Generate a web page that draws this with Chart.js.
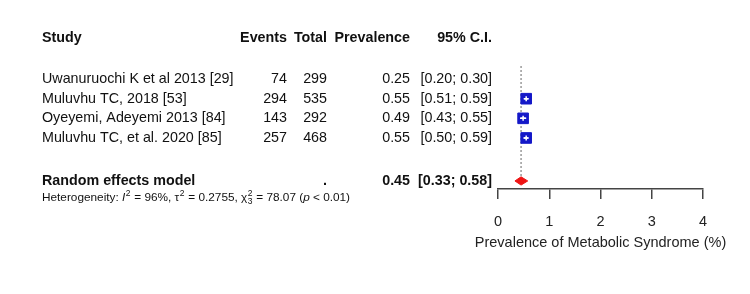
<!DOCTYPE html>
<html>
<head>
<meta charset="utf-8">
<script src="https://cdn.jsdelivr.net/npm/chart.js@4.4.1/dist/chart.umd.min.js"></script>
<style>
  html, body { margin: 0; padding: 0; background: #fff; }
  #wrap { width: 750px; height: 294px; }
</style>
</head>
<body>
<div id="wrap"><canvas id="forest"></canvas></div>
<script>
// data
const studies = ['Uwanuruochi K et al 2013 [29]', 'Muluvhu TC, 2018 [53]', 'Oyeyemi, Adeyemi 2013 [84]', 'Muluvhu TC, et al. 2020 [85]'];
const events = [74, 294, 143, 257];
const totals = [299, 535, 292, 468];
const prevalence = [0.25, 0.55, 0.49, 0.55];
const ciLow = [0.20, 0.51, 0.43, 0.50];
const ciHigh = [0.30, 0.59, 0.55, 0.59];
const squareSize = [0, 7.5, 7.5, 7.5];
const pooled = [0.45];
const pooledLow = [0.33];
const pooledHigh = [0.58];
const xTicks = [0, 1, 2, 3, 4];
const xTitle = 'Prevalence of Metabolic Syndrome (%)';

const rows = studies.map((s, i) => i + 1);
const summaryRow = 6.19;
const headerRow = -1.08;
const hetRow = 7.05;

const BLUE = '#1418c8';
const RED = '#ee1414';
const INK = '#111';
const FAM = '"Liberation Sans", Arial, sans-serif';

// CI segments, broken by NaN points
const ciSegs = [];
rows.forEach((r, i) => {
  ciSegs.push({x: ciLow[i], y: r}, {x: ciHigh[i], y: r}, {x: NaN, y: NaN});
});

const diamond = [
  {x: pooledLow[0], y: summaryRow},
  {x: pooled[0], y: summaryRow - 0.21},
  {x: pooledHigh[0], y: summaryRow},
  {x: pooled[0], y: summaryRow + 0.21},
  {x: pooledLow[0], y: summaryRow}
];

const tablePlugin = {
  id: 'forestTable',
  afterDraw(chart) {
    const ctx = chart.ctx;
    const y = chart.scales.y;
    const xs = chart.scales.x;
    const reg = '14.3px ' + FAM;
    const bold = 'bold 14.3px ' + FAM;
    const col = {study: 42, events: 287, total: 327, prev: 410, ci: 492};
    ctx.save();
    ctx.fillStyle = INK;
    ctx.textBaseline = 'middle';

    function put(t, x, yy, align, font) {
      ctx.font = font;
      ctx.textAlign = align;
      ctx.fillText(t, x, yy);
    }

    // header
    let hy = y.getPixelForValue(headerRow);
    put('Study', col.study, hy, 'left', bold);
    put('Events', col.events, hy, 'right', bold);
    put('Total', col.total, hy, 'right', bold);
    put('Prevalence', col.prev, hy, 'right', bold);
    put('95% C.I.', col.ci, hy, 'right', bold);

    // studies
    rows.forEach((r, i) => {
      const py = y.getPixelForValue(r);
      put(studies[i], col.study, py, 'left', reg);
      put(String(events[i]), col.events, py, 'right', reg);
      put(String(totals[i]), col.total, py, 'right', reg);
      put(prevalence[i].toFixed(2), col.prev, py, 'right', reg);
      put('[' + ciLow[i].toFixed(2) + '; ' + ciHigh[i].toFixed(2) + ']', col.ci, py, 'right', reg);
    });

    // summary
    const sy = y.getPixelForValue(summaryRow);
    put('Random effects model', col.study, sy, 'left', bold);
    put('.', col.total, sy, 'right', bold);
    put(pooled[0].toFixed(2), col.prev, sy, 'right', bold);
    put('[' + pooledLow[0].toFixed(2) + '; ' + pooledHigh[0].toFixed(2) + ']', col.ci, sy, 'right', bold);

    // heterogeneity line, piece by piece
    const hy2 = y.getPixelForValue(hetRow);
    const fs = 11.8;
    const pieces = [
      ['Heterogeneity: ', ''], ['I', 'italic '], ['2', 'sup'], [' = 96%, \u03c4', ''], ['2', 'sup'],
      [' = 0.2755, \u03c7', ''], ['2', 'supsub3'], [' = 78.07 (', ''], ['p', 'italic '], [' < 0.01)', '']
    ];
    let x = col.study;
    ctx.textAlign = 'left';
    pieces.forEach(([t, st]) => {
      if (st === 'sup' || st === 'supsub3') {
        ctx.font = (fs * 0.72) + 'px ' + FAM;
        ctx.fillText(t, x + 0.5, hy2 - 4);
        let w = ctx.measureText(t).width;
        if (st === 'supsub3') ctx.fillText('3', x + 0.5, hy2 + 4);
        x += w + 1;
      } else {
        ctx.font = st + fs + 'px ' + FAM;
        ctx.fillText(t, x, hy2);
        x += ctx.measureText(t).width;
      }
    });

    // axis title (wider than the axis itself, so drawn here)
    ctx.fillStyle = '#222';
    put(xTitle, (xs.left + xs.right) / 2, 243, 'center', '14.5px ' + FAM);
    ctx.restore();
  }
};

new Chart(document.getElementById('forest'), {
  type: 'scatter',
  data: {
    datasets: [
      {
        label: 'pooled line',
        data: [{x: pooled[0], y: 0.35}, {x: pooled[0], y: summaryRow - 0.2}],
        showLine: true,
        borderColor: '#555',
        borderWidth: 1.2,
        borderDash: [1.5, 2.5],
        pointRadius: 0,
        order: 5
      },
      {
        label: 'studies',
        data: rows.map((r, i) => ({x: prevalence[i], y: r})),
        pointStyle: 'rect',
        pointRadius: squareSize,
        backgroundColor: BLUE,
        borderColor: BLUE,
        borderWidth: 1,
        order: 3
      },
      {
        label: 'ci',
        data: ciSegs,
        showLine: true,
        spanGaps: false,
        borderColor: '#fff',
        borderWidth: 1.5,
        pointRadius: 0,
        order: 2
      },
      {
        label: 'centre',
        data: rows.map((r, i) => ({x: prevalence[i], y: r})),
        pointStyle: 'cross',
        pointRadius: 2.5,
        borderColor: '#fff',
        borderWidth: 1.5,
        order: 1
      },
      {
        label: 'pooled',
        data: diamond,
        showLine: true,
        fill: 'shape',
        borderColor: RED,
        backgroundColor: RED,
        borderWidth: 1,
        pointRadius: 0,
        order: 4
      }
    ]
  },
  options: {
    responsive: true,
    maintainAspectRatio: false,
    animation: false,
    events: [],
    layout: {padding: {left: 498, right: 47, top: 30, bottom: 38}},
    plugins: {legend: {display: false}, tooltip: {enabled: false}},
    scales: {
      x: {
        type: 'linear',
        min: 0,
        max: 4,
        afterBuildTicks: s => { s.ticks = xTicks.map(v => ({value: v})); },
        afterFit: s => { s.height = 67; },
        grid: {drawOnChartArea: false, drawTicks: true, tickLength: 10, color: '#444', lineWidth: 1.5},
        border: {display: true, color: '#444', width: 1.5},
        ticks: {padding: 14, color: '#222', font: {family: FAM, size: 14.5}},
        title: {display: false}
      },
      y: {
        type: 'linear',
        display: false,
        reverse: true,
        min: -1.5,
        max: 6.6
      }
    }
  },
  plugins: [tablePlugin]
});
</script>
</body>
</html>
